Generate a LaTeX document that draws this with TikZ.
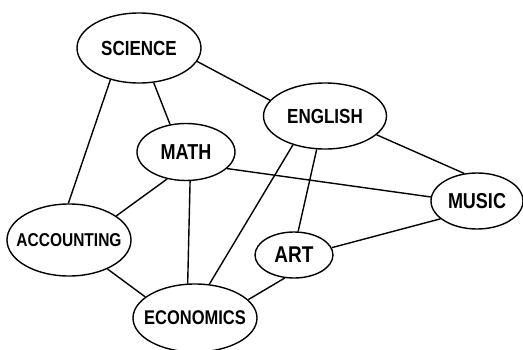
\documentclass[tikz,border=0pt]{standalone}
\usepackage{fontspec}
\setmainfont{Liberation Sans}
\usetikzlibrary{shapes.geometric}
\newcommand\lbl[1]{\makebox[0pt]{\scalebox{1}[1.2]{#1}}}
\tikzset{
  subj/.style={ellipse, draw=black, line width=1.4pt, inner sep=0pt, fill=white,
    font=\fontsize{17}{17}\selectfont\bfseries},
  link/.style={draw=black, line width=1.4pt},
}
\begin{document}
\begin{tikzpicture}[x=1pt,y=-1pt]
\clip (0,0) rectangle (523,349);
\fill[white] (0,0) rectangle (523,349);
\node[subj, minimum width=124pt, minimum height=70pt] (sci) at (139,48) {\lbl{SCIENCE}};
\node[subj, minimum width=123pt, minimum height=66pt] (eng) at (325,116) {\lbl{ENGLISH}};
\node[subj, minimum width=98pt, minimum height=57pt, font=\fontsize{18}{18}\selectfont\bfseries] (math) at (186,152) {\lbl{MATH}};
\node[subj, minimum width=92pt, minimum height=56pt, font=\fontsize{18}{18}\selectfont\bfseries] (mus) at (477,201) {\lbl{MUSIC}};
\node[subj, minimum width=124pt, minimum height=72pt, font=\fontsize{15.5}{16}\selectfont\bfseries] (acc) at (69,240) {\lbl{ACCOUNTING}};
\node[subj, minimum width=78pt, minimum height=46pt, font=\fontsize{19}{19}\selectfont\bfseries] (art) at (294,255) {\lbl{ART}};
\node[subj, minimum width=124pt, minimum height=68pt, font=\fontsize{16.5}{17}\selectfont\bfseries] (eco) at (195,318) {\lbl{ECONOMICS}};
\path[link] (sci.-13.6) -- (eng.164.6);
\path[link] (sci.-67.4) -- (math.120);
\path[link] (sci.-132.4) -- (acc.91.6);
\path[link] (eng.-20.4) -- (mus.115.7);
\path[link] (eng.-104.8) -- (art.80.1);
\path[link] (eng.-138.6) -- (eco.67);
\path[link] (math.-22) -- (mus.175);
\path[link] (math.-125.5) -- (acc.27.9);
\path[link] (math.-82.4) -- (eco.102.9);
\path[link] (mus.-154.7) -- (art.11.6);
\path[link] (acc.-37.1) -- (eco.157.8);
\path[link] (art.-112.2) -- (eco.19.3);
\end{tikzpicture}
\end{document}
